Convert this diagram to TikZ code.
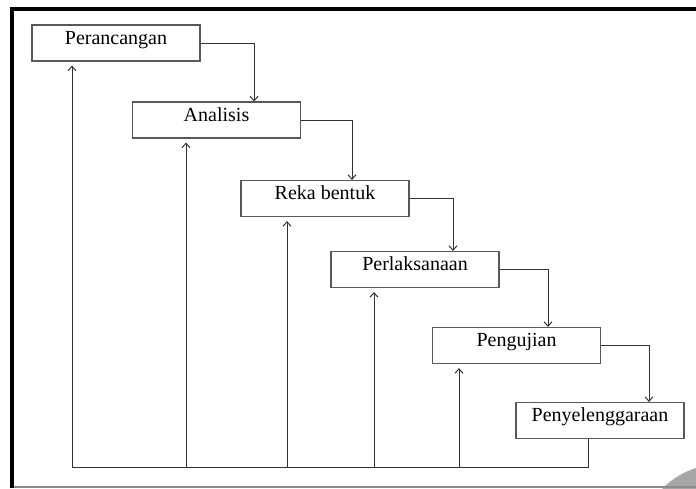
\documentclass[tikz,border=0pt]{standalone}
\usepackage{fontspec}
\setmainfont{Liberation Serif}
\usetikzlibrary{arrows.meta}

\begin{document}
\begin{tikzpicture}[x=0.5pt,y=-0.5pt,
  tahap/.style={draw=black!65, line width=0.6pt, minimum width=84pt, inner xsep=0pt,
    inner ysep=0pt, text height=9.6pt, text depth=8.4pt, font=\fontsize{10}{12}\selectfont},
  alur/.style={draw=black!80, line width=0.5pt, -{Straight Barb[length=2.2pt,width=4pt]}},
  balik/.style={alur, shorten >=2pt}]
\useasboundingbox (0,0) rectangle (696,488);
% frame
\begin{scope}
\clip (0,0) rectangle (696,488);
\fill[black!35] (720,545) circle[radius=40.3pt];
\end{scope}
\draw[black!45, line width=0.6pt] (12,487) -- (696,487);
\draw[line width=2pt] (12,488) -- (12,9) -- (696,9);
% tahap
\node[tahap](p1) at (116,43){Perancangan};
\node[tahap](p2) at (216.5,120){Analisis};
\node[tahap](p3) at (325,198.5){Reka bentuk};
\node[tahap](p4) at (415,269.5){Perlaksanaan};
\node[tahap](p5) at (516.5,345.5){Pengujian};
\node[tahap](p6) at (600,420.5){Penyelenggaraan};
\draw[alur] (p1.east) -| ([xshift=18.75pt]p2.north);
\draw[alur] (p2.east) -| ([xshift=13.5pt]p3.north);
\draw[alur] (p3.east) -| ([xshift=19pt]p4.north);
\draw[alur] (p4.east) -| ([xshift=15.75pt]p5.north);
\draw[alur] (p5.east) -| ([xshift=24.5pt]p6.north);
% balik
\coordinate (k1) at (72,467);
\coordinate (k2) at (186,467);
\coordinate (k3) at (287,467);
\coordinate (k4) at (374,467);
\coordinate (k5) at (459,467);
\draw[black!80, line width=0.5pt] ([xshift=-6pt]p6.south) |- (k1);
\draw[balik] (k1) -- (k1 |- p1.south);
\draw[balik] (k2) -- (k2 |- p2.south);
\draw[balik] (k3) -- (k3 |- p3.south);
\draw[balik] (k4) -- (k4 |- p4.south);
\draw[balik] (k5) -- (k5 |- p5.south);
\end{tikzpicture}
\end{document}
